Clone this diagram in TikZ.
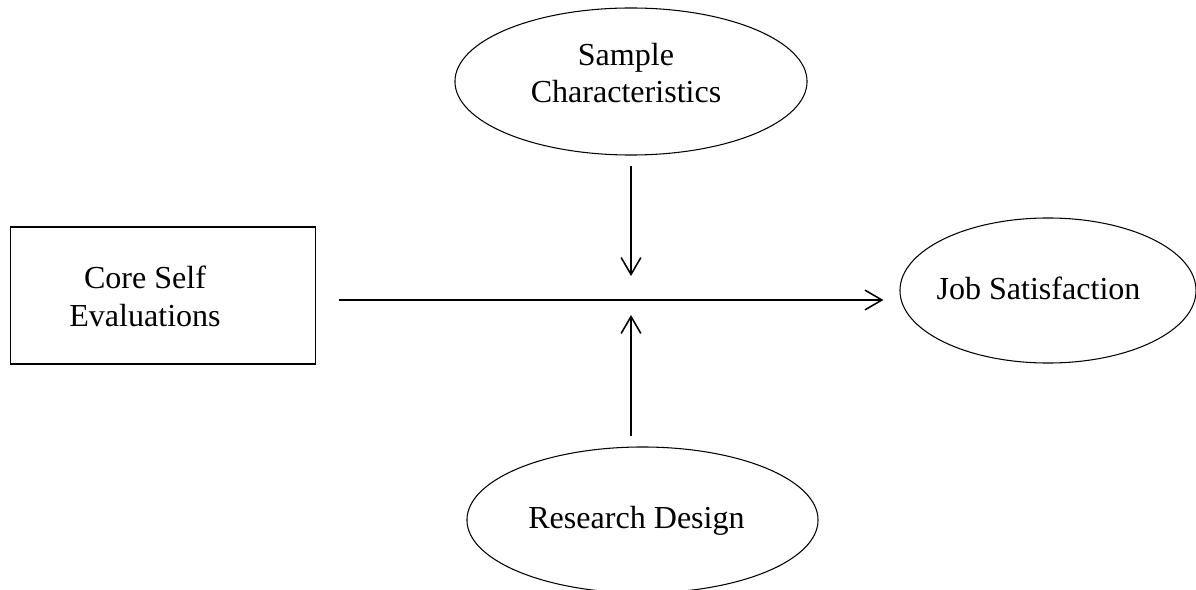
\documentclass[tikz,border=0pt]{standalone}
\usepackage{fontspec}
\setmainfont{Liberation Serif}
\usetikzlibrary{shapes.geometric,arrows.meta}

\begin{document}
\begin{tikzpicture}[x=0.025cm, y=-0.025cm,
        oval/.style={draw, ellipse, line width=0.75pt, inner sep=0pt},
        box/.style={draw, rectangle, line width=0.75pt, inner sep=0pt},
        txt/.style={align=center, inner sep=0pt,
            font=\fontsize{22.8}{26.8}\selectfont},
        arr/.style={line width=1.1pt, -{Straight Barb[length=12pt, width=14pt, line width=1.1pt]}}]
    \useasboundingbox (0, 0) rectangle (1196, 590);
    % Shapes
    \node[box, minimum width=7.6cm, minimum height=3.425cm] (cse) at (163, 295.5) {};
    \node[oval, minimum width=8.8cm, minimum height=3.675cm] (sc) at (631, 81.5) {};
    \node[oval, minimum width=7.4cm, minimum height=3.625cm] (js) at (1048, 290.5) {};
    \node[oval, minimum width=8.775cm, minimum height=3.65cm] (rd) at (642.5, 520) {};
    % Texts
    \node[txt] (cseText) at (145, 296.5) {Core Self\\Evaluations};
    \node[txt] (scText) at (626, 73) {Sample\\Characteristics};
    \node[txt] (jsText) at (1038.5, 288.5) {Job Satisfaction};
    \node[txt] (rdText) at (636.5, 520.5) {Research Design};
    % Arrows
    \coordinate (hub) at (631, 300);
    \draw[arr, shorten <=0.575cm, shorten >=0.4cm] (cse.east |- hub) -- (js.west |- hub);
    \draw[arr, shorten <=0.25cm, shorten >=0.6cm] (sc.south -| hub) -- (hub);
    \draw[arr, shorten <=0.25cm, shorten >=0.375cm] (rd.north -| hub) -- (hub);
\end{tikzpicture}
\end{document}
